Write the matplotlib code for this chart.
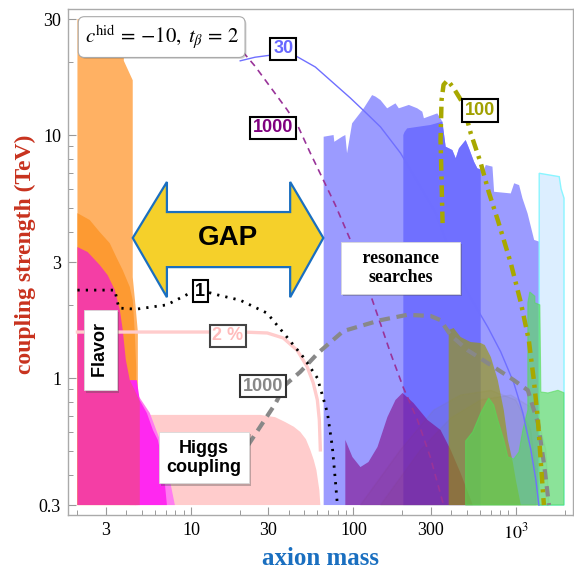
import numpy as np
import matplotlib
matplotlib.use("Agg")
import matplotlib.pyplot as plt
import matplotlib.patheffects as pe
from matplotlib.ticker import FixedLocator, FixedFormatter, NullFormatter

plt.rcParams['font.family'] = ['Liberation Serif', 'DejaVu Serif']
plt.rcParams['mathtext.fontset'] = 'stix'

# ---- excluded regions (axion mass, coupling strength in TeV) ----
orange_light_x = [2.0, 2.0, 3.86, 3.86, 4.1, 4.38, 4.38, 4.55, 4.71, 4.71]
orange_light_y = [0.3, 30, 30, 20.2, 18.5, 16.8, 2.6, 2.0, 1.55, 0.3]

orange_dark_x = [2.0, 2.0, 2.38, 2.74, 3.16, 3.49, 3.80, 4.20, 4.38, 4.51, 4.6, 4.6]
orange_dark_y = [0.3, 4.77, 4.47, 3.99, 3.59, 3.12, 2.78, 2.37, 2.09, 1.53, 1.11, 0.3]

flavor_x = [2.0, 2.0, 2.31, 2.74, 3.07, 3.40, 3.65, 3.80, 3.97, 4.20, 4.51, 4.84, 4.84]
flavor_y = [0.3, 3.46, 3.30, 2.92, 2.65, 2.30, 1.90, 1.58, 1.19, 0.98, 0.89, 0.80, 0.3]

magenta_x = [4.2, 4.2, 4.64, 4.84, 5.35, 5.83, 6.25, 6.72, 7.11]
magenta_y = [0.3, 0.98, 0.98, 0.81, 0.718, 0.611, 0.556, 0.447, 0.3]

fringe_x = [4.51, 4.51, 5.58, 6.44, 7.2, 7.96]
fringe_y = [0.3, 0.89, 0.718, 0.556, 0.418, 0.3]

higgs_x = [2.0, 2.0, 26.7, 33.0, 38.0, 43.0, 47.1, 51.0, 54.3, 57.0, 59.2, 61.7, 62.6]
higgs_y = [0.3, 0.705, 0.705, 0.69, 0.659, 0.63, 0.600, 0.56, 0.506, 0.46, 0.418, 0.346, 0.3]

res_light_x = [65.6, 65.6, 75.5, 76.3, 85.2, 89.2, 91.4, 98.2, 115.8, 130.4, 136.7, 146.8,
               161.4, 181.6, 190.4, 219.5, 247.3, 265.6, 271.7, 328.5, 353, 369.8, 406.6,
               426.6, 446.7, 491, 515, 553, 580, 637, 653, 718, 735, 931, 977, 1048, 1099,
               1181, 1297, 1393, 1393]
res_light_y = [0.3, 9.84, 10.0, 9.38, 9.84, 10.0, 8.41, 11.17, 12.88, 14.6, 14.4, 13.93,
               12.88, 13.5, 12.88, 13.3, 12.88, 12.47, 11.72, 12.28, 11.35, 8.95, 8.67,
               8.02, 8.81, 9.53, 8.81, 7.76, 7.29, 7.18, 7.53, 7.41, 5.84, 5.75, 6.33, 6.22,
               5.49, 4.76, 3.70, 3.64, 0.3]

res_dark_x = [203, 203, 206.5, 214.4, 247.3, 298.6, 328.5, 353, 369.8, 406.6, 426.6,
              446.7, 491, 515, 553, 580, 608, 608]
res_dark_y = [0.3, 10.0, 10.3, 10.65, 10.8, 11.0, 11.2, 11.35, 8.95, 8.67, 8.02,
              8.81, 9.53, 8.81, 7.76, 7.29, 7.2, 0.3]

cyan_x = [1393, 1393, 1850, 1900, 1980, 1980]
cyan_y = [0.3, 6.96, 6.74, 6.0, 5.5, 0.3]

dome1_x = [110.5, 195, 312, 457, 702, 1000, 1238, 1328, 1328]
dome1_y = [0.3, 0.506, 0.738, 0.851, 0.89, 0.812, 0.611, 0.418, 0.3]
dome2_x = [147, 259, 397, 608, 931, 1328, 1532, 1600]
dome2_y = [0.3, 0.506, 0.684, 0.812, 0.851, 0.738, 0.506, 0.3]

dijet_x = [89.2, 89.2, 98.6, 110.5, 123.8, 140.7, 162, 181.6, 200.6, 234.4, 286, 344,
           397, 457, 543]
dijet_y = [0.3, 0.556, 0.473, 0.430, 0.451, 0.520, 0.691, 0.812, 0.868, 0.789, 0.672,
           0.611, 0.506, 0.406, 0.3]

olive_x = [386, 386, 414, 457, 527, 608, 644, 702, 774, 843, 893, 958, 1000, 1074]
olive_y = [0.3, 1.576, 1.606, 1.475, 1.406, 1.393, 1.367, 1.22, 0.981, 0.738, 0.556,
           0.451, 0.381, 0.3]

green_x = [491, 491, 543, 608, 681, 731, 774, 843, 893, 972, 1045, 1105, 1186, 1186,
           1219, 1310, 1310, 1406, 1426, 1577, 1817, 1977, 1977]
green_y = [0.3, 0.551, 0.600, 0.718, 0.827, 0.774, 0.672, 0.556, 0.473, 0.464, 0.496,
           0.611, 0.738, 2.04, 2.26, 2.17, 2.04, 2.0, 0.876, 0.868, 0.89, 0.87, 0.3]

# ---- contours ----
higgs2_x = [2.0, 20.9, 29.5, 37.0, 45.1, 52.0, 56.6, 60.0, 61.7, 62.6]
higgs2_y = [1.546, 1.546, 1.532, 1.461, 1.30, 1.11, 0.954, 0.812, 0.672, 0.506]

dot1_x = [2.0, 3.4, 3.5, 3.6, 4.6, 7.1, 9.9, 11.4, 14.5, 20.1, 29.4, 39.1, 49.1, 60.0,
          64.4, 69.2, 74.2, 77.4, 79.7]
dot1_y = [2.30, 2.30, 2.10, 1.94, 1.92, 2.00, 2.24, 2.30, 2.20, 2.09, 1.85, 1.47, 1.22,
          1.00, 0.85, 0.718, 0.52, 0.38, 0.30]

gray_x = [22.5, 33.0, 38.0, 47.1, 60.8, 86.7, 146.8, 215, 298.6, 344, 397, 506, 732,
          972, 1186, 1368, 1489, 1600]
gray_y = [0.53, 0.782, 0.936, 1.06, 1.27, 1.56, 1.73, 1.82, 1.80, 1.73, 1.50, 1.30,
          1.11, 0.98, 0.89, 0.653, 0.447, 0.3]

blue_x = [20.1, 24.8, 30.7, 34.0, 38.0, 45.1, 58.3, 72.1, 95.8, 118.6, 146.8, 195, 259,
          321, 370, 427, 506, 672, 808, 972, 1105, 1238, 1328, 1387]
blue_y = [20.2, 20.9, 21.3, 21.45, 21.4, 21.0, 19.05, 16.8, 14.2, 12.4, 10.8, 8.43, 6.11,
          4.78, 3.70, 2.92, 2.24, 1.62, 1.28, 0.954, 0.718, 0.506, 0.381, 0.3]

purple_x = [20.9, 24.8, 29.5, 39.1, 45.8, 54.3, 65.3, 77.4, 95.8, 118.6, 142.6, 169,
            203.5, 248, 298.6, 359]
purple_y = [21.96, 19.2, 16.4, 12.7, 10.8, 8.43, 6.53, 5.15, 3.70, 2.53, 1.77, 1.27,
            0.909, 0.672, 0.469, 0.3]

olive_line_x = [354, 349, 344, 349, 359, 380, 414, 471, 527, 608, 681, 774, 931, 1074,
                1202, 1291, 1368, 1426, 1489]
olive_line_y = [4.34, 6.53, 9.53, 13.93, 16.1, 16.8, 15.6, 13.55, 10.2, 7.67, 5.83, 4.47,
                2.97, 2.04, 1.43, 0.981, 0.672, 0.447, 0.30]

# GAP arrow outline
gap_x = [4.38, 7.11, 7.11, 40.8, 40.8, 65.3, 40.8, 40.8, 7.11, 7.11]
gap_y = [3.77, 6.41, 4.82, 4.82, 6.41, 3.77, 2.15, 2.86, 2.86, 2.15]

xtick_vals = [3, 10, 30, 100, 300, 1000]
xtick_labels = ['3', '10', '30', '100', '300', r'$10^3$']
ytick_vals = [0.3, 1, 3, 10, 30]
ytick_labels = ['0.3', '1', '3', '10', '30']

fig = plt.figure(figsize=(5.74, 5.68), dpi=100)
ax = fig.add_axes([0.1185, 0.0933, 0.8798, 0.8908])
ax.set_xscale('log')
ax.set_yscale('log')

# regions
ax.fill(higgs_x, higgs_y, color='#ffcccc', lw=0)
ax.fill(orange_light_x, orange_light_y, color='#ffb163', lw=0)
ax.fill(orange_dark_x, orange_dark_y, color='#fd9a32', lw=0)
ax.fill(fringe_x, fringe_y, color='#ff7cf0', lw=0)
ax.fill(magenta_x, magenta_y, color='#ff28f0', lw=0)
ax.fill(flavor_x, flavor_y, color='#f43ea5', lw=0)

ax.fill(res_light_x, res_light_y, color='#9b9bff', lw=0)
ax.fill(res_dark_x, res_dark_y, color='#7070ff', lw=0)
ax.fill(cyan_x, cyan_y, fc='#dceeff', ec='#8af5ff', lw=1)
ax.fill(dome1_x, dome1_y, fc='#808080', ec='#808080', alpha=0.12, lw=1)
ax.fill(dome2_x, dome2_y, fc='#808080', ec='#808080', alpha=0.12, lw=1)
ax.fill(dijet_x, dijet_y, color='#800080', alpha=0.55, lw=0)
ax.fill(olive_x, olive_y, color='#999900', alpha=0.62, lw=0)
ax.fill(green_x, green_y, fc='#55dd55', ec='#55dd55', alpha=0.6, lw=0.8)

# contours
ax.plot(higgs2_x, higgs2_y, color='#ffcccc', lw=2.4)
ax.plot(blue_x, blue_y, color='#6f6fff', lw=1)
ax.plot(purple_x, purple_y, color='#993399', lw=1.2, dashes=(4, 3))
ax.plot(gray_x, gray_y, color='#888888', lw=3, dashes=(2.5, 1.6))
ax.plot(dot1_x, dot1_y, color='black', lw=2, dashes=(0.8, 2.2))
ax.plot(olive_line_x, olive_line_y, color='#a8a800', lw=3.2, dashes=(2.6, 1.3, 0.7, 1.3))

# GAP arrow
ax.fill(gap_x, gap_y, fc='#f5d02a', ec='#1a6fc0', lw=1.6, zorder=5)
ax.text(16.9, 3.77, 'GAP', family='Liberation Sans', fontweight='bold', fontsize=20,
        ha='center', va='center', zorder=6)

# contour labels
def num_label(x, y, s, c, ec='black'):
    ax.text(x, y, s, color=c, family='Liberation Sans', fontweight='bold', fontsize=13,
            ha='center', va='center', zorder=7,
            bbox=dict(boxstyle='square,pad=0.15', fc='white', ec=ec, lw=1.5))

num_label(11.4, 2.28, '1', 'black')
num_label(16.9, 1.49, '2 %', '#ffbcbc', ec='#444444')
num_label(27.8, 0.925, '1000', '#888888', ec='#333333')
num_label(37.0, 22.6, '30', '#6666ff')
num_label(32.1, 10.7, '1000', '#800080')
num_label(600, 12.6, '100', '#a0a000')

def box_label(x, y, s, fam, rot=0, pad=0.4):
    t = ax.text(x, y, s, family=fam, fontweight='bold', fontsize=13, rotation=rot,
                ha='center', va='center', zorder=8, linespacing=1.15,
                bbox=dict(boxstyle='square,pad=%s' % pad, fc='white', ec='#d8d8d8', lw=0.6))
    t.get_bbox_patch().set_path_effects(
        [pe.withSimplePatchShadow(offset=(1.5, -1.5), alpha=0.35)])

box_label(2.78, 1.30, ' Flavor ', 'Liberation Sans', rot=90, pad=0.45)
box_label(12.0, 0.469, 'Higgs\ncoupling', 'Liberation Sans', pad=0.42)
box_label(195, 2.84, '   resonance   \nsearches', 'Liberation Serif', pad=0.45)

t = ax.text(6.6, 25.3, r'$c^{\rm hid}\,=\,{-}10,\; t_\beta\,=\,2$', fontsize=15,
            ha='center', va='center', zorder=8,
            bbox=dict(boxstyle='round,pad=0.3,rounding_size=0.3', fc='white',
                      ec='#aaaaaa', lw=0.8))
t.get_bbox_patch().set_path_effects([pe.withSimplePatchShadow(offset=(1, -1), alpha=0.25)])

# axes
ax.set_xlim(1.75, 2250)
ax.set_ylim(0.273, 33)
ax.xaxis.set_major_locator(FixedLocator(xtick_vals))
ax.xaxis.set_major_formatter(FixedFormatter(xtick_labels))
ax.yaxis.set_major_locator(FixedLocator(ytick_vals))
ax.yaxis.set_major_formatter(FixedFormatter(ytick_labels))
xminor = [m * 10.0 ** k for k in range(0, 4) for m in range(2, 10) if m != 3]
yminor = [m * 10.0 ** k for k in range(-1, 2) for m in range(2, 10) if m != 3]
ax.xaxis.set_minor_locator(FixedLocator(xminor))
ax.yaxis.set_minor_locator(FixedLocator(yminor))
ax.xaxis.set_minor_formatter(NullFormatter())
ax.yaxis.set_minor_formatter(NullFormatter())
ax.tick_params(which='both', direction='in', color='#999999', labelsize=13, pad=5)
ax.tick_params(which='major', length=6, width=0.8)
ax.tick_params(which='minor', length=3.5, width=0.7)
for s in ax.spines.values():
    s.set_color('#aaaaaa')
    s.set_linewidth(1.0)

ax.set_xlabel('axion mass', color='#1a6fc0', fontsize=18, fontweight='bold')
ax.set_ylabel('coupling strength (TeV)', color='#c8321e', fontsize=17, fontweight='bold')
ax.xaxis.set_label_coords(0.5, -(558 - 515) / 506)
ax.xaxis.label.set_va('center')
ax.yaxis.set_label_coords(-(68 - 25) / 505, (515 - 254) / 506)
ax.yaxis.label.set_va('center')

fig.savefig('out.png', dpi=100)
